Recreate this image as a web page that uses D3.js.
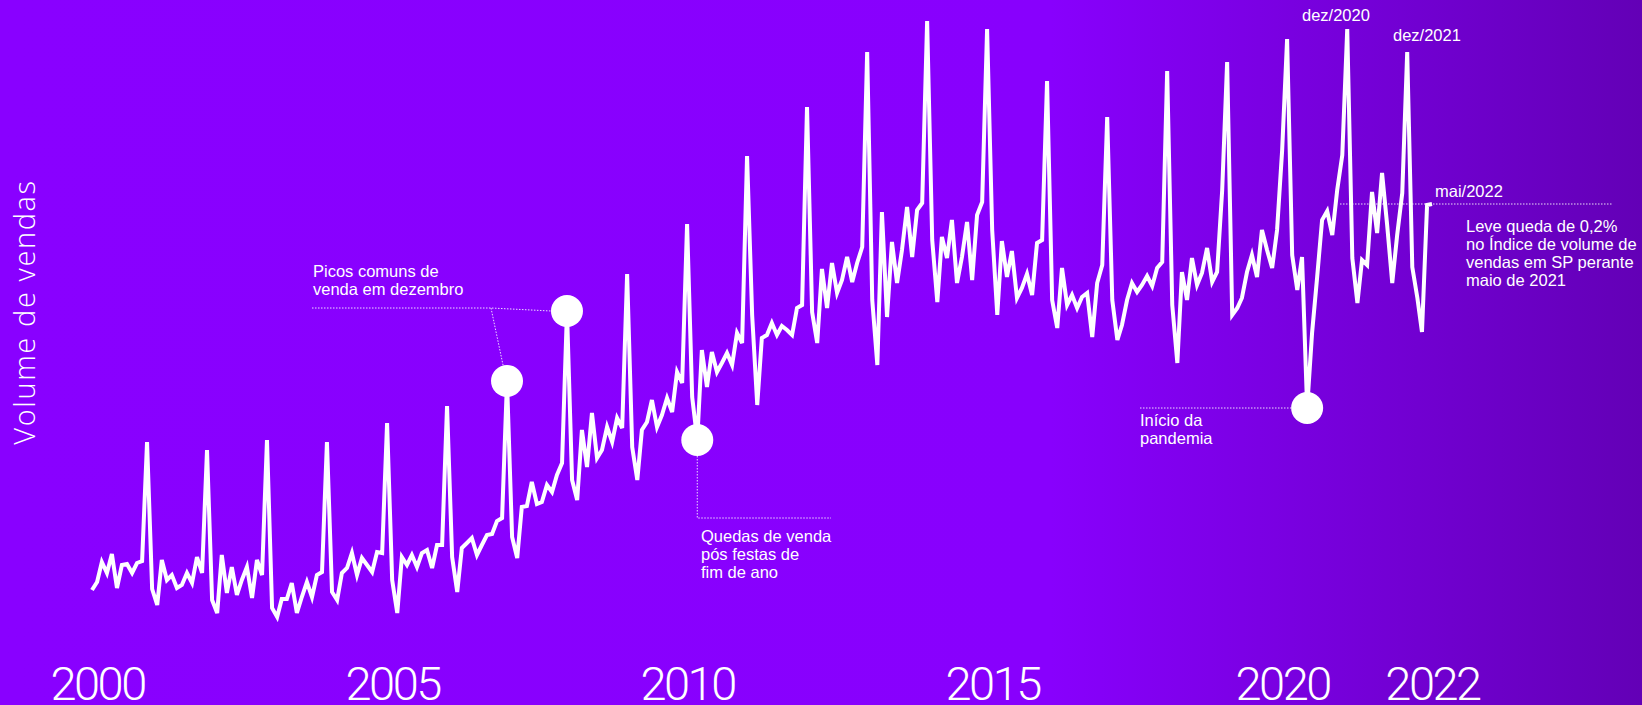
<!DOCTYPE html>
<html>
<head>
<meta charset="utf-8">
<script src="https://cdn.jsdelivr.net/npm/d3@7"></script>
<style>
  html, body { margin: 0; padding: 0; overflow: hidden; background: #8900ff; }
  svg { display: block; }
  .note { font-family: "Liberation Sans", Arial, sans-serif; font-size: 16.5px; fill: #fff; }
  .year text { font-family: Roboto, sans-serif; font-weight: 300; font-size: 47px; fill: #fff; letter-spacing: -2.5px; }
  .ylab { font-family: "Open Sans", sans-serif; font-weight: 300; font-size: 29px; fill: #fff; letter-spacing: 1.6px; }
  .lead { stroke: #fff; stroke-width: 1; stroke-dasharray: 1.5 1.5; fill: none; opacity: 0.85; }
</style>
</head>
<body>
<div class="chart"></div>
<script>
var width = 1642,
    height = 705;

// indice de volume de vendas (SP), mensal, jan..dez
const v2000 = [42, 43.6, 47.6, 45.4, 49.2, 42.4, 47, 47.2, 45.4, 47.4, 47.8, 71.6];
const v2001 = [42.2, 39, 48, 44, 45, 42.4, 43, 45.4, 43.4, 48.6, 45.4, 70];
const v2002 = [40, 37.4, 49, 41.4, 46.6, 41, 44, 46.6, 40.4, 48, 45, 72];
const v2003 = [38.4, 36.6, 40.2, 40.2, 43.4, 37.4, 40.6, 43.6, 40.6, 45, 45.6, 71.6];
const v2004 = [41.6, 40, 45.4, 46.4, 49.4, 45, 48.4, 47, 45.6, 49.6, 49.4, 75.4];
const v2005 = [44, 37.4, 48.6, 47, 49, 46.6, 49.4, 50, 46.4, 51, 51, 78.8];
const v2006 = [48.6, 41.6, 50.4, 51.4, 52.4, 49, 51, 53, 53.2, 55.8, 56.4, 83.8];
const v2007 = [52.6, 48.4, 58.6, 58.8, 63.6, 59.2, 59.6, 63, 61.6, 65, 67.4, 97.8];
const v2008 = [64, 60, 74, 66.6, 77.4, 68.4, 70, 74.6, 71.6, 76.4, 74.4, 105.2];
const v2009 = [70.6, 64, 74, 75.6, 80, 74.6, 77, 80.4, 77.6, 85.6, 83.4, 115.2];
const v2010 = [80.6, 72, 90, 82.6, 89.6, 85.6, 87.4, 89.4, 87, 93.4, 91.4, 128.8];
const v2011 = [97, 79, 92.4, 93, 95.4, 93, 94.8, 94, 93, 98.4, 99, 138.6];
const v2012 = [97.6, 91.4, 106.2, 98.4, 107.4, 101.4, 104, 108.6, 103.6, 107.4, 110.6, 149.6];
const v2013 = [100, 87, 117.6, 96.6, 111.6, 103.4, 110, 118.6, 108.6, 118, 119.4, 155.8];
const v2014 = [112, 99.6, 112.6, 108.4, 116, 103.4, 108.6, 115.6, 104, 117, 119.6, 154.2];
const v2015 = [114, 97, 111.8, 104.6, 109.8, 100.4, 102.4, 105.2, 101, 111.4, 112, 143.8];
const v2016 = [100, 94.4, 106.4, 99, 101, 98.4, 100.6, 101.4, 92.6, 103.4, 107, 136.6];
const v2017 = [100, 92, 95, 100, 103.4, 101.6, 103, 104.8, 102.8, 106.4, 107.6, 145.8];
const v2018 = [99, 87.4, 105.6, 100, 108.4, 103, 105.4, 110.4, 103.6, 105.6, 122, 147.6];
const v2019 = [97, 98.4, 100.4, 105.6, 109, 104.6, 114, 110, 106.4, 114, 130, 152.2];
const v2020 = [109, 102, 108.6, 78.4, 93.4, 104.6, 116, 117.8, 113, 122, 129, 154.2];
const v2021 = [108.4, 99.4, 108, 107, 121.6, 113.4, 125.4, 115, 103.4, 113, 121.4, 149.6];
const v2022 = [106.6, 100.4, 93.6, 119, 119.2];

const years = d3.range(2000, 2023);
const series = [v2000, v2001, v2002, v2003, v2004, v2005, v2006, v2007, v2008, v2009, v2010, v2011,
                v2012, v2013, v2014, v2015, v2016, v2017, v2018, v2019, v2020, v2021, v2022];

const tickLabels = ["2000", "2005", "2010", "2015", "2020", "2022"];
const tickMonths = ["2000-02", "2005-01", "2009-12", "2015-01", "2019-11", "2022-05"];

const highlightMonths = ["2006-12", "2007-12", "2010-02", "2020-04"];

const notePicos = ["Picos comuns de", "venda em dezembro"];
const noteQuedas = ["Quedas de venda", "pós festas de", "fim de ano"];
const notePandemia = ["Início da", "pandemia"];
const noteMaio = ["Leve queda de 0,2%", "no Índice de volume de", "vendas em SP perante", "maio de 2021"];

const parseMonth = d3.timeParse("%Y-%m");
const fmtMonth = d3.timeFormat("%Y-%m");

let data = [];
series.forEach((arr, k) => {
  arr.forEach((v, m) => {
    data.push({date: new Date(years[k], m, 1), value: v});
  });
});

const x = d3.scaleTime()
  .domain(d3.extent(data, d => d.date))
  .range([92, 1432]);

const y = d3.scaleLinear()
  .domain([30, 160])
  .range([650, 0]);

const svg = d3.select(".chart").append("svg")
  .attr("width", width)
  .attr("height", height);

const grad = svg.append("defs").append("linearGradient")
  .attr("id", "bg")
  .attr("x1", "0%").attr("x2", "100%")
  .attr("y1", "0%").attr("y2", "0%");
grad.append("stop").attr("offset", "0%").attr("stop-color", "#8900ff");
grad.append("stop").attr("offset", "64%").attr("stop-color", "#8800fd");
grad.append("stop").attr("offset", "100%").attr("stop-color", "#6300b6");

svg.append("rect")
  .attr("width", width)
  .attr("height", height)
  .attr("fill", "url(#bg)");

function pointAt(m) {
  return data.find(d => fmtMonth(d.date) == m);
}

const p06 = pointAt("2006-12"),
      p07 = pointAt("2007-12"),
      p10 = pointAt("2010-02"),
      p20 = pointAt("2020-04"),
      last = data[data.length - 1];

// linhas pontilhadas das anotacoes
const leads = svg.append("g");
leads.append("path").attr("class", "lead")
  .attr("d", `M312,308H491L${x(p07.date) - 16},${y(p07.value)}`);
leads.append("path").attr("class", "lead")
  .attr("d", `M491,308L${x(p06.date) - 4},${y(p06.value) - 16}`);
leads.append("path").attr("class", "lead")
  .attr("d", `M${x(p10.date)},${y(p10.value) + 16}V518H831`);
leads.append("path").attr("class", "lead")
  .attr("d", `M1140,${y(p20.value)}H${x(p20.date) - 16}`);
leads.append("path").attr("class", "lead")
  .attr("d", `M1340,${y(last.value)}H1613`);

const line = d3.line()
  .x(d => x(d.date))
  .y(d => y(d.value));

svg.append("path")
  .datum(data)
  .attr("fill", "none")
  .attr("stroke", "#fff")
  .attr("stroke-width", 4)
  .attr("d", line);

svg.append("g")
  .selectAll("circle")
  .data(highlightMonths.map(pointAt))
  .enter().append("circle")
  .attr("cx", d => x(d.date))
  .attr("cy", d => y(d.value))
  .attr("r", 16)
  .attr("fill", "#fff");

// anos
const axis = svg.append("g")
  .attr("class", "year")
  .attr("transform", "translate(0,700)")
  .call(d3.axisBottom(x)
    .tickValues(tickMonths.map(parseMonth))
    .tickFormat((d, i) => tickLabels[i])
    .tickSize(0));
axis.select(".domain").remove();
axis.selectAll("text").attr("y", 0).attr("dy", 0).attr("fill", "#fff");

svg.append("text")
  .attr("class", "ylab")
  .attr("transform", "translate(35,312) rotate(-90)")
  .attr("text-anchor", "middle")
  .text("Volume de vendas");

function note(lines, x0, y0) {
  const t = svg.append("text").attr("class", "note");
  lines.forEach((s, i) => {
    t.append("tspan").attr("x", x0).attr("y", y0 + i * 18).text(s);
  });
}

note(notePicos, 313, 277);
note(noteQuedas, 701, 542);
note(notePandemia, 1140, 426);
note(noteMaio, 1466, 232);
note(["dez/2020"], 1302, 21);
note(["dez/2021"], 1393, 41);
note(["mai/2022"], 1435, 197);
</script>
</body>
</html>
